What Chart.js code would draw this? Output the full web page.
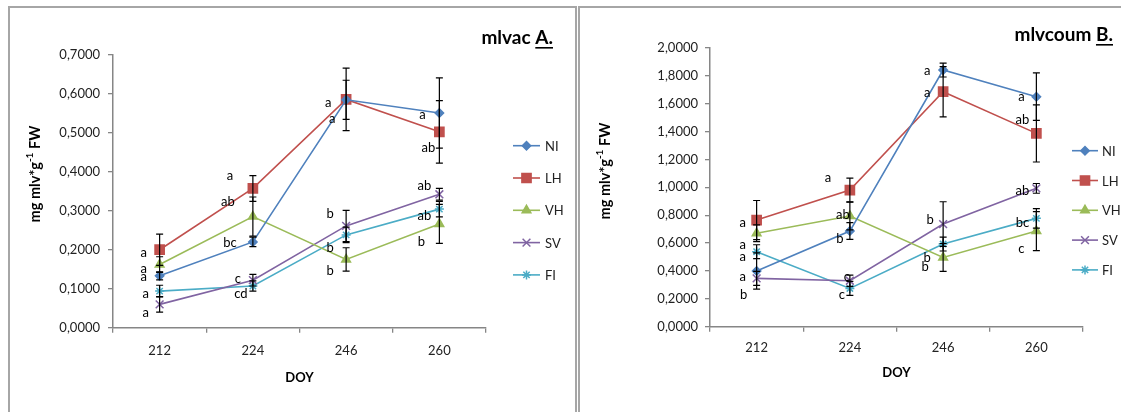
<!DOCTYPE html>
<html>
<head>
<meta charset="utf-8">
<script src="https://cdn.jsdelivr.net/npm/chart.js@4.4.1/dist/chart.umd.min.js"></script>
<style>
  html, body { margin: 0; padding: 0; background: #fff; overflow: hidden; width: 1121px; height: 412px; }
  .panel { position: absolute; border: 2px solid #a6a6a6; border-bottom: none; background: #fff; }
  #panelA { left: 8px; top: 6px; width: 565px; height: 406px; }
  #panelB { left: 578px; top: 6px; width: 560px; height: 406px; }
  canvas { display: block; }
</style>
</head>
<body>
<div class="panel" id="panelA"><canvas id="chartA" width="565" height="404"></canvas></div>
<div class="panel" id="panelB"><canvas id="chartB" width="560" height="404"></canvas></div>
<script>
const days = ['212', '224', '246', '260'];
const seriesNames = ['NI', 'LH', 'VH', 'SV', 'FI'];
const seriesColors = ['#4F81BD', '#C0504D', '#9BBB59', '#8064A2', '#4BACC6'];
const markerStyles = ['rectRot', 'rect', 'triangle', 'crossRot', 'star'];
const markerSizes = [4.2, 6.5, 5, 5.5, 4.5];

// A. mlvac
const mlvacNI = [0.133, 0.220, 0.584, 0.550];
const mlvacLH = [0.200, 0.357, 0.585, 0.502];
const mlvacVH = [0.162, 0.285, 0.175, 0.266];
const mlvacSV = [0.060, 0.122, 0.261, 0.342];
const mlvacFI = [0.094, 0.107, 0.238, 0.304];
const mlvacErrNI = [0.010, 0.012, 0.050, 0.090];
const mlvacErrLH = [0.040, 0.033, 0.080, 0.080];
const mlvacErrVH = [0.020, 0.050, 0.030, 0.050];
const mlvacErrSV = [0.020, 0.015, 0.040, 0.015];
const mlvacErrFI = [0.015, 0.013, 0.020, 0.020];
const mlvacLetters = [
  ['a', 'bc', 'a', 'a'],
  ['a', 'a', 'a', 'ab'],
  ['a', 'ab', 'b', 'b'],
  ['a', 'c', 'b', 'ab'],
  ['a', 'cd', 'b', 'ab']
];
const mlvacTicks = [0, 0.7, 0.1];

// B. mlvcoum
const mlvcoumNI = [0.400, 0.686, 1.840, 1.649];
const mlvcoumLH = [0.765, 0.980, 1.685, 1.386];
const mlvcoumVH = [0.670, 0.794, 0.497, 0.686];
const mlvcoumSV = [0.347, 0.330, 0.736, 0.992];
const mlvcoumFI = [0.538, 0.275, 0.593, 0.777];
const mlvcoumErrNI = [0.130, 0.060, 0.050, 0.170];
const mlvcoumErrLH = [0.140, 0.085, 0.180, 0.205];
const mlvcoumErrVH = [0.060, 0.100, 0.100, 0.140];
const mlvcoumErrSV = [0.050, 0.040, 0.160, 0.035];
const mlvcoumErrFI = [0.050, 0.050, 0.050, 0.070];
const mlvcoumLetters = [
  ['a', 'b', 'a', 'a'],
  ['a', 'a', 'a', 'ab'],
  ['a', 'ab', 'b', 'c'],
  ['b', 'c', 'b', 'ab'],
  ['a', 'c', 'b', 'bc']
];
const mlvcoumTicks = [0, 2, 0.2];

const FONT = 'Lato, "DejaVu Sans", sans-serif';

// layout for each panel (pixels inside the panel)
const layoutA = {
  padding: { left: 14, right: 89, top: 46.5, bottom: 22.2 },
  yWidth: 89, xHeight: 62, yTickPad: 8, xTickPad: 10,
  yTitle: { x: 25, y: 166 },
  title: { right: 543, y: 30, main: 'mlvac ', tag: 'A.' },
  legend: { x1: 503, x2: 530, textX: 535, y0: 137.7, dy: 32.3 },
  letterShift: [
    [[-16, 1], [-23, 1], [-14, 19], [-17, 2]],
    [[-16, 3], [-23, -13], [-18, 3], [-11, 16]],
    [[-16, 4], [-25, -15], [-16, 11], [-18, 18]],
    [[-14, 8], [-15, -1], [-16, -12], [-15, -8]],
    [[-14, 3], [-12, 8], [-16, 13], [-15, 7]]
  ]
};
const layoutB = {
  padding: { left: 14, right: 57, top: 39.7, bottom: 27.2 },
  yWidth: 116, xHeight: 58, yTickPad: 7, xTickPad: 8,
  yTitle: { x: 25, y: 163 },
  title: { right: 533, y: 27, main: 'mlvcoum ', tag: 'B.' },
  legend: { x1: 492, x2: 518, textX: 522, y0: 142.7, dy: 29.8 },
  letterShift: [
    [[-14, 6], [-10, 8], [-16, 1], [-15, 0]],
    [[-14, 3], [-22, -12], [-16, 1], [-14, -14]],
    [[-14, 12], [-7, -1], [-18, 9], [-15, 18]],
    [[-13, 16], [-3, -4], [-13, -4], [-14, 2]],
    [[-14, 5], [-8, 6], [-16, 14], [-14, 4]]
  ]
};

const extras = {
  id: 'extras',
  afterDatasetsDraw(chart) {
    const ctx = chart.ctx;
    const y = chart.scales.y;
    ctx.save();
    ctx.strokeStyle = '#000';
    ctx.lineWidth = 1.2;
    chart.data.datasets.forEach((ds, i) => {
      const meta = chart.getDatasetMeta(i);
      ds.errors.forEach((e, j) => {
        const x = meta.data[j].x;
        const top = y.getPixelForValue(ds.data[j] + e);
        const bot = y.getPixelForValue(ds.data[j] - e);
        ctx.beginPath();
        ctx.moveTo(x, top); ctx.lineTo(x, bot);
        ctx.moveTo(x - 3.5, top); ctx.lineTo(x + 3.5, top);
        ctx.moveTo(x - 3.5, bot); ctx.lineTo(x + 3.5, bot);
        ctx.stroke();
      });
    });
    ctx.restore();
  },
  afterDraw(chart, args, opts) {
    const ctx = chart.ctx;
    const lay = opts.layout;
    ctx.save();

    // significance letters
    ctx.fillStyle = '#000';
    ctx.font = '13px ' + FONT;
    ctx.textAlign = 'center';
    ctx.textBaseline = 'middle';
    chart.data.datasets.forEach((ds, i) => {
      const meta = chart.getDatasetMeta(i);
      ds.letters.forEach((t, j) => {
        const s = lay.letterShift[i][j];
        ctx.fillText(t, meta.data[j].x + s[0], meta.data[j].y + s[1]);
      });
    });

    // legend
    const lg = lay.legend;
    chart.data.datasets.forEach((ds, i) => {
      const ly = lg.y0 + i * lg.dy;
      ctx.strokeStyle = ds.borderColor;
      ctx.lineWidth = ds.borderWidth;
      ctx.beginPath();
      ctx.moveTo(lg.x1, ly); ctx.lineTo(lg.x2, ly);
      ctx.stroke();
      ctx.fillStyle = ds.borderColor;
      ctx.lineWidth = 1.5;
      Chart.helpers.drawPoint(ctx, { pointStyle: ds.pointStyle, radius: ds.pointRadius, rotation: 0, borderWidth: 1.5 }, (lg.x1 + lg.x2) / 2, ly);
      ctx.fillStyle = '#222';
      ctx.textAlign = 'left';
      ctx.fillText(ds.label, lg.textX, ly + 1);
    });

    // y axis title with superscript
    const yt = lay.yTitle;
    ctx.translate(yt.x, yt.y);
    ctx.rotate(-Math.PI / 2);
    const mainFont = 'bold 14.5px ' + FONT;
    const supFont = 'bold 10px ' + FONT;
    const parts = [['mg mlv*g', mainFont, 0], ['-1', supFont, -5], [' FW', mainFont, 0]];
    let total = 0;
    parts.forEach(p => { ctx.font = p[1]; total += ctx.measureText(p[0]).width; });
    let px = -total / 2;
    ctx.fillStyle = '#000';
    ctx.textAlign = 'left';
    ctx.textBaseline = 'middle';
    parts.forEach(p => {
      ctx.font = p[1];
      ctx.fillText(p[0], px, p[2]);
      px += ctx.measureText(p[0]).width;
    });
    ctx.setTransform(1, 0, 0, 1, 0, 0);

    // panel title
    const tt = lay.title;
    ctx.font = 'bold 19px ' + FONT;
    ctx.textBaseline = 'middle';
    ctx.textAlign = 'left';
    const wTag = ctx.measureText(tt.tag).width;
    const wMain = ctx.measureText(tt.main).width;
    const x0 = tt.right - wTag - wMain;
    ctx.fillStyle = '#000';
    ctx.fillText(tt.main, x0, tt.y);
    ctx.fillText(tt.tag, x0 + wMain, tt.y);
    ctx.fillRect(x0 + wMain, tt.y + 9, wTag, 1.6);
    ctx.restore();
  }
};

function makeChart(id, values, errors, letters, ticks, lay) {
  const datasets = seriesNames.map((name, i) => ({
    label: name,
    data: values[i],
    errors: errors[i],
    letters: letters[i],
    borderColor: seriesColors[i],
    backgroundColor: seriesColors[i],
    pointBackgroundColor: seriesColors[i],
    pointBorderColor: seriesColors[i],
    borderWidth: 1.6,
    pointStyle: markerStyles[i],
    pointRadius: markerSizes[i],
    pointBorderWidth: 1.5,
    tension: 0
  }));
  return new Chart(document.getElementById(id), {
    type: 'line',
    data: { labels: days, datasets: datasets },
    plugins: [extras],
    options: {
      responsive: false,
      animation: false,
      layout: { padding: lay.padding },
      plugins: {
        legend: { display: false },
        tooltip: { enabled: false },
        extras: { layout: lay }
      },
      scales: {
        x: {
          offset: true,
          afterFit: s => { s.height = lay.xHeight; },
          grid: { offset: true, drawOnChartArea: false, drawTicks: true, tickLength: 5, color: '#868686', lineWidth: 1.3 },
          border: { color: '#868686', width: 1.5 },
          ticks: { color: '#222', padding: lay.xTickPad, font: { family: FONT, size: 13 } },
          title: { display: true, text: 'DOY', color: '#000', font: { family: FONT, size: 13, weight: 'bold' } }
        },
        y: {
          min: ticks[0],
          max: ticks[1],
          afterFit: s => { s.width = lay.yWidth; },
          grid: { drawOnChartArea: false, drawTicks: true, tickLength: 5, color: '#868686', lineWidth: 1.3 },
          border: { color: '#868686', width: 1.5 },
          ticks: {
            stepSize: ticks[2],
            color: '#222',
            padding: lay.yTickPad,
            font: { family: FONT, size: 13 },
            callback: v => v.toFixed(4).replace('.', ',')
          }
        }
      }
    }
  });
}

makeChart('chartA',
  [mlvacNI, mlvacLH, mlvacVH, mlvacSV, mlvacFI],
  [mlvacErrNI, mlvacErrLH, mlvacErrVH, mlvacErrSV, mlvacErrFI],
  mlvacLetters, mlvacTicks, layoutA);

makeChart('chartB',
  [mlvcoumNI, mlvcoumLH, mlvcoumVH, mlvcoumSV, mlvcoumFI],
  [mlvcoumErrNI, mlvcoumErrLH, mlvcoumErrVH, mlvcoumErrSV, mlvcoumErrFI],
  mlvcoumLetters, mlvcoumTicks, layoutB);
</script>
</body>
</html>
